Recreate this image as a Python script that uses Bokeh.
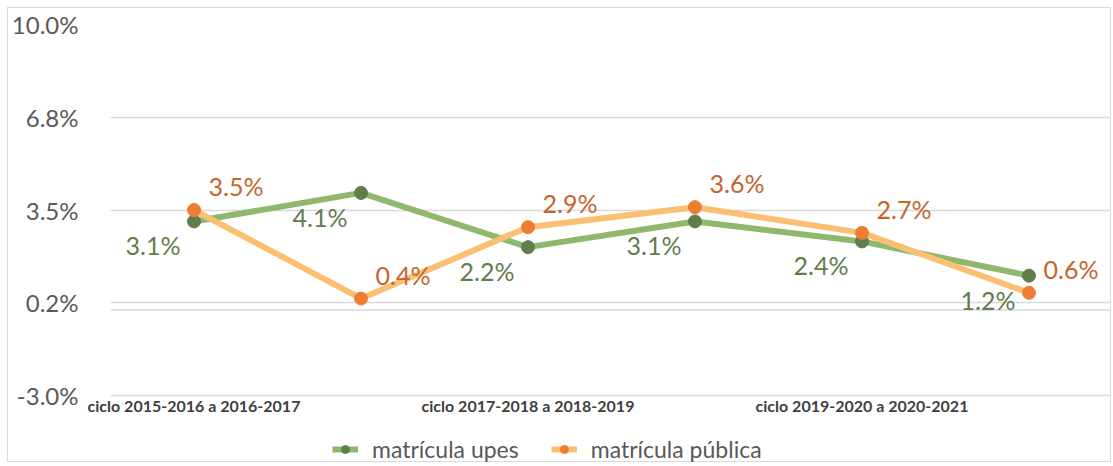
from bokeh.plotting import figure
from bokeh.models import ColumnDataSource, FixedTicker, LabelSet, Legend, LegendItem, Span
from bokeh.core.properties import value
from bokeh.embed import file_html
from bokeh.resources import INLINE

categories = ["ciclo 2015-2016 a 2016-2017", "ciclo 2016-2017 a 2017-2018",
              "ciclo 2017-2018 a 2018-2019", "ciclo 2018-2019 a 2019-2020",
              "ciclo 2019-2020 a 2020-2021", "ciclo 2020-2021 a 2021-2022"]
upes = [3.1, 4.1, 2.2, 3.1, 2.4, 1.2]
publica = [3.5, 0.4, 2.9, 3.6, 2.7, 0.6]
y_ticks = [-3.0, 0.25, 3.5, 6.75, 10.0]
y_tick_labels = ["-3.0%", "0.2%", "3.5%", "6.8%", "10.0%"]

FONT = "Lato"
xs = list(range(len(categories)))

src = ColumnDataSource(dict(
    x=xs, upes=upes, publica=publica,
    upes_lbl=[f"{v:.1f}%" for v in upes],
    pub_lbl=[f"{v:.1f}%" for v in publica],
))

# frame extends to the bottom so the legend can sit inside it
p = figure(width=1104, height=455, output_backend="svg", toolbar_location=None,
           x_range=(-0.5, len(categories) - 0.5), y_range=(-5.38, 10.0),
           min_border_left=98, min_border_top=16, min_border_right=0, min_border_bottom=0)
p.styles = {"border": "1px solid #d9d9d9", "margin": "7px 0 0 7px"}
p.outline_line_color = None
p.background_fill_color = "white"
p.border_fill_color = "white"

# axes
p.yaxis.ticker = FixedTicker(ticks=y_ticks)
p.yaxis.major_label_overrides = {t: l for t, l in zip(y_ticks, y_tick_labels)}
p.yaxis.axis_line_color = None
p.yaxis.major_tick_line_color = None
p.yaxis.minor_tick_line_color = None
p.yaxis.major_label_standoff = 26
p.yaxis.major_label_text_font = FONT
p.yaxis.major_label_text_font_size = "24px"
p.yaxis.major_label_text_color = "#595959"

p.xaxis.ticker = FixedTicker(ticks=xs[::2])
p.xaxis.major_label_overrides = {i: categories[i] for i in xs[::2]}
p.xaxis.axis_line_color = None
p.xaxis.major_tick_line_color = None
p.xaxis.minor_tick_line_color = None
p.xaxis.major_label_standoff = -74
p.xaxis.major_label_text_font = FONT
p.xaxis.major_label_text_font_style = "bold"
p.xaxis.major_label_text_font_size = "16px"
p.xaxis.major_label_text_color = "#404040"

p.xgrid.grid_line_color = None
p.ygrid.grid_line_color = "#d9d9d9"
p.ygrid.grid_line_width = 1.5
p.add_layout(Span(location=0, dimension="width", line_color="#d9d9d9", line_width=1.5))

# series
g_line = p.line("x", "upes", source=src, line_color="#8fb86c", line_width=6)
g_pt = p.scatter("x", "upes", source=src, size=13, fill_color="#627d4c", line_color="#627d4c")
o_line = p.line("x", "publica", source=src, line_color="#fbbf72", line_width=6)
o_pt = p.scatter("x", "publica", source=src, size=13, fill_color="#ed7d31", line_color="#ed7d31")

p.add_layout(LabelSet(x="x", y="upes", text="upes_lbl", source=src, x_offset=-41, y_offset=-24,
                      text_align="center", text_baseline="middle", text_font=value(FONT),
                      text_font_size="25px", text_color="#627d4c"))
p.add_layout(LabelSet(x="x", y="publica", text="pub_lbl", source=src, x_offset=42, y_offset=24,
                      text_align="center", text_baseline="middle", text_font=value(FONT),
                      text_font_size="25px", text_color="#c5652b"))

legend = Legend(items=[LegendItem(label="matrícula upes", renderers=[g_line, g_pt]),
                       LegendItem(label="matrícula pública", renderers=[o_line, o_pt])],
                orientation="horizontal", location=(222, 0),
                label_text_font=FONT, label_text_font_size="23px", label_text_color="#595959",
                glyph_width=26, glyph_height=20, label_standoff=14, spacing=32,
                padding=0, margin=0, border_line_color=None, background_fill_alpha=0)
p.add_layout(legend, "center")

open("out.html", "w").write(file_html(p, INLINE))
